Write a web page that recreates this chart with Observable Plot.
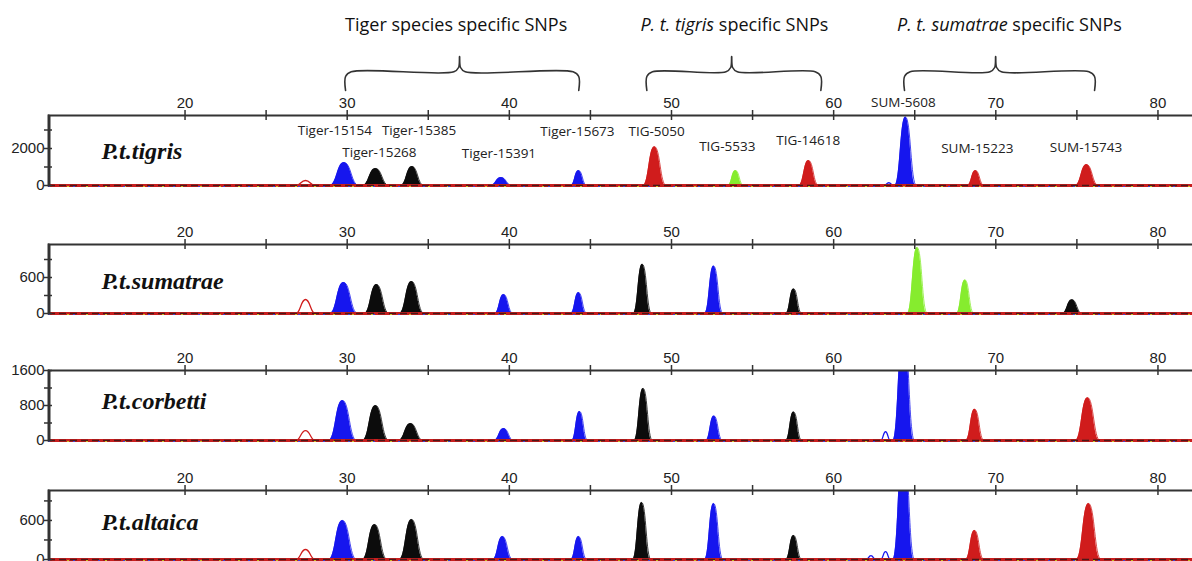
<!DOCTYPE html>
<html><head><meta charset="utf-8">
<script src="https://cdn.jsdelivr.net/npm/d3@7"></script>
<script src="https://cdn.jsdelivr.net/npm/@observablehq/plot@0.6"></script>
<style>
html,body{margin:0;padding:0;background:#fff;}
#chart{position:relative;width:1192px;height:561px;overflow:hidden;background:#fff;}
</style></head><body><div id="chart"></div>
<script>
// ---------------- data ----------------
const panelNames = ["P.t.tigris", "P.t.sumatrae", "P.t.corbetti", "P.t.altaica"];
const yTops = [3784, 1150, 1600, 1060];
const yTickValues = [[0, 1000, 2000, 3000], [0, 300, 600, 900], [0, 400, 800, 1200, 1600], [0, 300, 600, 900]];
const yTickLabels = [[0, 2000], [0, 600], [0, 800, 1600], [0, 600]];
const xTickValues = [20, 25, 30, 35, 40, 45, 50, 55, 60, 65, 70, 75, 80];
const xTickLabels = [20, 30, 40, 50, 60, 70, 80];
const xDomain = [11.58, 82.13];

const markerNames = ["Tiger-15154", "Tiger-15268", "Tiger-15385", "Tiger-15391", "Tiger-15673",
  "TIG-5050", "TIG-5533", "TIG-14618", "SUM-5608", "SUM-15223", "SUM-15743"];
const markerLabelX = [29.24, 31.99, 34.43, 39.36, 44.2, 49.08, 53.44, 58.43, 64.3, 68.86, 75.56];
const markerLabelY = [2973, 1784, 2973, 1730, 2919, 2919, 2108, 2432, 4486, 2000, 2054];

const peakCenters = [
  [29.81, 31.75, 34.0, 39.49, 44.27, 48.95, 53.95, 58.45, 64.43, 68.75, 75.6],
  [29.78, 31.81, 33.97, 39.65, 44.27, 48.2, 52.6, 57.53, 65.15, 68.1, 74.7],
  [29.71, 31.75, 33.91, 39.65, 44.33, 48.25, 52.62, 57.53, 64.31, 68.7, 75.66],
  [29.71, 31.69, 33.97, 39.58, 44.27, 48.16, 52.6, 57.53, 64.31, 68.69, 75.72]
];
const peakHeights = [
  [1240, 920, 1030, 430, 810, 2100, 810, 1350, 3700, 810, 1130],
  [517, 483, 533, 317, 350, 820, 790, 410, 1100, 560, 230],
  [914, 800, 389, 274, 663, 1190, 560, 650, 2600, 712, 980],
  [600, 538, 615, 354, 354, 877, 861, 369, 1800, 446, 861]
];
const peakHalfWidths = [
  [0.88, 0.8, 0.7, 0.65, 0.48, 0.7, 0.47, 0.6, 0.65, 0.5, 0.7],
  [0.85, 0.75, 0.75, 0.55, 0.48, 0.55, 0.55, 0.48, 0.6, 0.52, 0.6],
  [0.85, 0.8, 0.75, 0.6, 0.48, 0.55, 0.5, 0.48, 0.65, 0.55, 0.75],
  [0.85, 0.75, 0.75, 0.6, 0.48, 0.55, 0.55, 0.48, 0.65, 0.55, 0.75]
];
const peakDyes = [
  ["blue", "black", "black", "blue", "blue", "red", "green", "red", "blue", "red", "red"],
  ["blue", "black", "black", "blue", "blue", "black", "blue", "black", "green", "green", "black"],
  ["blue", "black", "black", "blue", "blue", "black", "blue", "black", "blue", "red", "red"],
  ["blue", "black", "black", "blue", "blue", "black", "blue", "black", "blue", "red", "red"]
];
// unfilled artefact peaks
const artCenters = [[27.43, 63.4], [27.43], [27.43, 63.2], [27.43, 62.3, 63.2]];
const artHeights = [[270, 150], [233], [228, 200], [154, 60, 120]];
const artDyes = [["red", "blue"], ["red"], ["red", "blue"], ["red", "blue", "blue"]];

const groupItalic = ["", "P. t. tigris", "P. t. sumatrae"];
const groupRest = ["Tiger species specific SNPs", " specific SNPs", " specific SNPs"];
const groupStart = [29.9, 48.48, 64.37];
const groupEnd = [44.28, 59.21, 76.09];
const groupMid = [36.93, 53.71, 69.99];
const groupTextSplit = [29.87, 52.63, 70.73];

// ---------------- style / layout ----------------
const dyeColor = {blue: "#1616ee", black: "#0c0c0c", red: "#d01c1c", green: "#86ec2e"};
const W = 1192, ML = 48;
const panelTop = [85, 214, 340, 460];
const innerH = [70, 69, 70, 69];
const bottomM = [8, 8, 8, 2];
const nameDy = [36, 37, 31, 32];
const axisFont = "'Liberation Sans', Arial, sans-serif";
const labelFont = "'Open Sans', sans-serif";
const axisColor = "#333";

const chart = document.getElementById("chart");
function place(svg, top) {
  svg.style.position = "absolute";
  svg.style.left = "0px";
  svg.style.top = top + "px";
  chart.appendChild(svg);
}

// ---------------- header (group labels + braces) ----------------
const braceTable = groupStart.flatMap((s, g) => {
  const e = groupEnd[g], m = groupMid[g], r = 0.35;
  const pts = [[s, 90], [s, 76], [s + r, 71.3], [m - r, 71.3], [m - 0.06, 67], [m, 56],
               [m + 0.06, 67], [m + r, 71.3], [e - r, 71.3], [e, 76], [e, 90]];
  return pts.map(([x, y]) => ({g, x, y}));
});

const header = Plot.plot({
  width: W, height: 95, marginLeft: ML, marginRight: 0, marginTop: 0, marginBottom: 0,
  x: {domain: xDomain, axis: null},
  y: {domain: [0, 95], range: [0, 95], axis: null},
  style: {background: "transparent", overflow: "visible"},
  marks: [
    Plot.line(braceTable, {x: "x", y: "y", z: "g", curve: "catmull-rom", stroke: "#333", strokeWidth: 1.6}),
    Plot.text(groupItalic, {x: (d, i) => groupTextSplit[i], y: 25, text: d => d, textAnchor: "end",
      fontStyle: "italic", fontSize: 18, fontFamily: labelFont, fill: "#111"}),
    Plot.text(groupRest, {x: (d, i) => groupTextSplit[i], y: 25, text: d => d, textAnchor: "start",
      fontSize: 18, fontFamily: labelFont, fill: "#111"})
  ]
});
place(header, 0);

// ---------------- panels ----------------
function panel(i) {
  const peaks = peakCenters[i].flatMap((c, j) => {
    const w = peakHalfWidths[i][j], h = peakHeights[i][j], dye = peakDyes[i][j];
    return [{id: j, x: c - w, y: 0, dye}, {id: j, x: c, y: h, dye}, {id: j, x: c + w, y: 0, dye}];
  });
  const arts = artCenters[i].flatMap((c, j) => {
    const h = artHeights[i][j], dye = artDyes[i][j], w = dye === "red" ? 0.6 : 0.3;
    return [{id: j, x: c - w, y: 0, dye}, {id: j, x: c, y: h, dye}, {id: j, x: c + w, y: 0, dye}];
  });
  const yTop = yTops[i];
  const marks = [
    Plot.areaY(peaks, {x: "x", y: "y", z: "id", fill: d => dyeColor[d.dye], curve: "bump-x", clip: true}),
    Plot.lineY(peaks, {x: "x", y: "y", z: "id", stroke: d => dyeColor[d.dye], strokeWidth: 0.8, curve: "bump-x", clip: true}),
    Plot.lineY(arts, {x: "x", y: "y", z: "id", stroke: d => dyeColor[d.dye], strokeWidth: 1.3, curve: "bump-x", clip: true}),
    // noisy multi-dye baseline
    Plot.ruleY([0], {stroke: "#c81e1e", strokeWidth: 2.8}),
    Plot.ruleY([0], {stroke: "#2a1616", strokeWidth: 1.6, strokeDasharray: "7,4", strokeOpacity: 0.8}),
    Plot.ruleY([0], {stroke: "#c8c020", strokeWidth: 1.2, strokeDasharray: "2,17", dy: 1}),
    Plot.ruleY([0], {stroke: "#4040d0", strokeWidth: 1.2, strokeDasharray: "2,23", dy: 1}),
    // frame lines
    Plot.ruleY([yTop], {stroke: axisColor, strokeWidth: 2}),
    Plot.frame({anchor: "left", stroke: axisColor, strokeWidth: 2}),
    Plot.ruleX([xDomain[0]], {y1: yTop, y2: 0, dx: 1, stroke: axisColor, strokeWidth: 2}),
    // crossing tick marks
    Plot.ruleX(xTickValues, {x: d => d, y1: yTop, y2: yTop, insetTop: -5, insetBottom: -5, stroke: axisColor, strokeWidth: 1.5}),
    Plot.ruleY(yTickValues[i], {y: d => d, x1: xDomain[0], x2: xDomain[0], insetLeft: -4, insetRight: -4, stroke: axisColor, strokeWidth: 1.5}),
    // axes labels
    Plot.axisX(xTickLabels, {anchor: "top", label: null, tickSize: 0, tickPadding: 8, tickFormat: d => String(d),
      fontSize: 15, fontFamily: axisFont, fill: "#222"}),
    Plot.axisY(yTickLabels[i], {anchor: "left", label: null, tickSize: 0, tickPadding: 4, tickFormat: d => String(d),
      fontSize: 15, fontFamily: axisFont, fill: "#222"}),
    // panel name
    Plot.text([panelNames[i]], {frameAnchor: "top-left", dx: 53, dy: nameDy[i], textAnchor: "start", lineAnchor: "middle",
      fontSize: 24, fontFamily: "'Liberation Serif', 'Times New Roman', serif", fontWeight: "bold", fontStyle: "italic", fill: "#111"})
  ];
  if (i === 0) {
    marks.push(Plot.text(markerNames, {x: (d, k) => markerLabelX[k], y: (d, k) => markerLabelY[k], text: d => d,
      fontSize: 13.5, fontFamily: labelFont, fill: "#222"}));
  }
  return Plot.plot({
    width: W, height: 30 + innerH[i] + bottomM[i],
    marginLeft: ML, marginRight: 0, marginTop: 30, marginBottom: bottomM[i],
    x: {domain: xDomain},
    y: {domain: [0, yTop]},
    color: {type: "identity"},
    style: {background: "transparent", overflow: "visible"},
    marks
  });
}

panelNames.forEach((_, i) => place(panel(i), panelTop[i]));
</script>
</body></html>
